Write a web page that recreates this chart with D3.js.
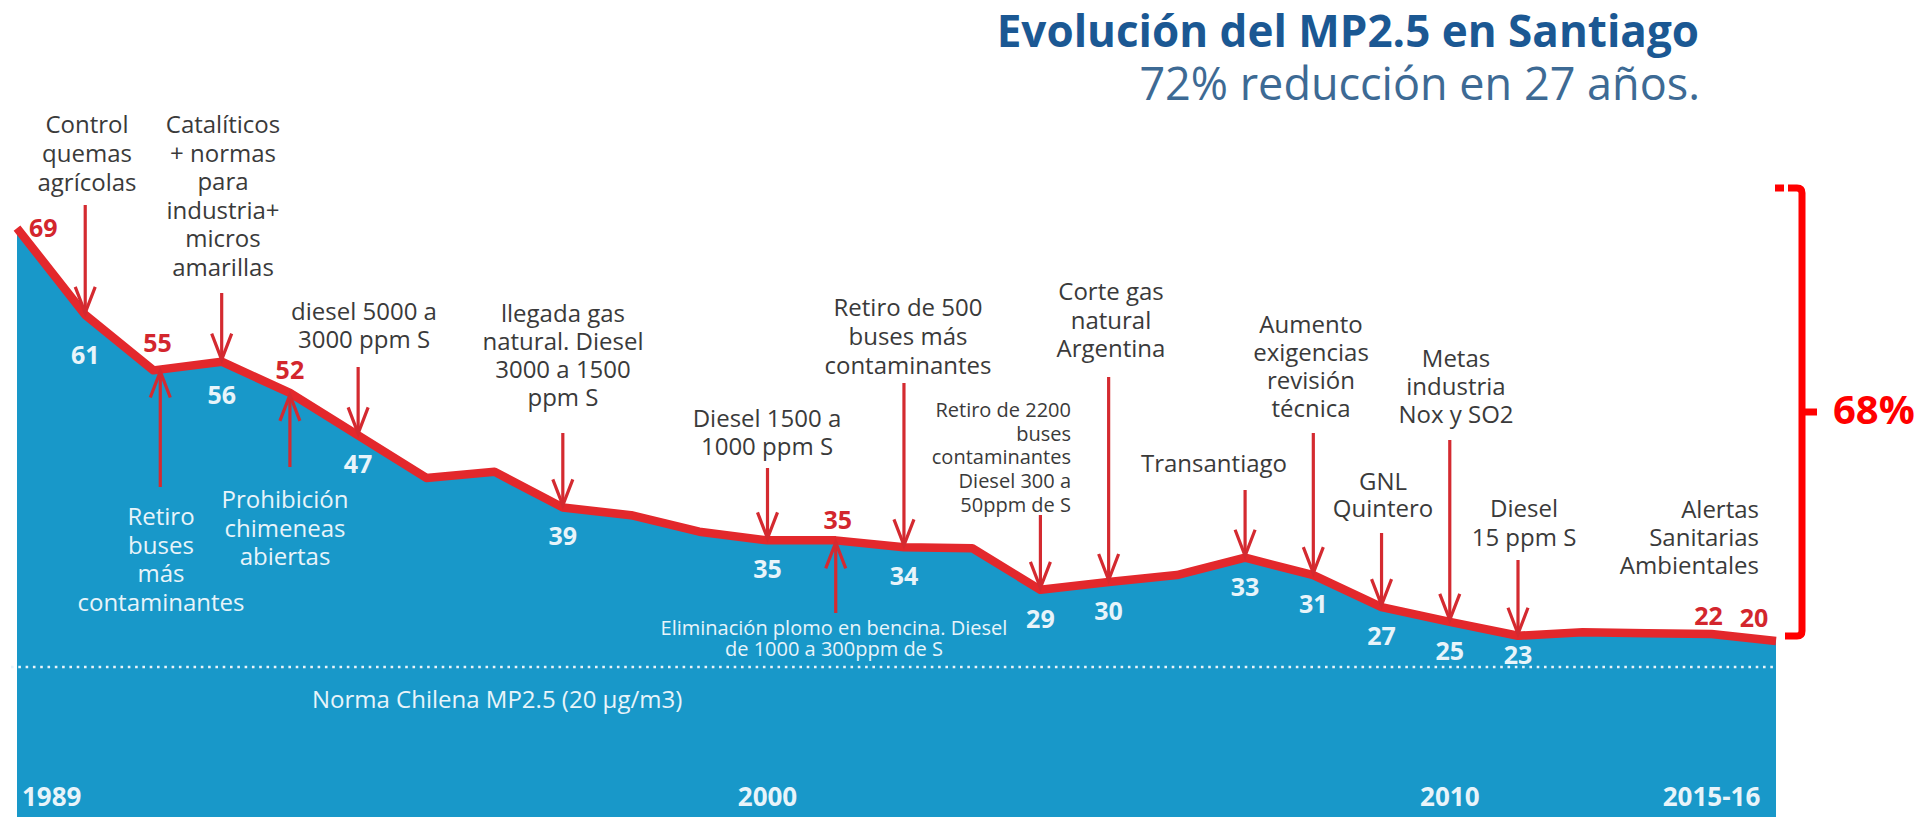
<!DOCTYPE html>
<html>
<head>
<meta charset="utf-8">
<script src="https://cdn.jsdelivr.net/npm/d3@7"></script>
<style>
    body { margin: 0; background: #fff; }
    svg { display: block; }
    text { font-family: 'Open Sans', sans-serif; }
</style>
</head>
<body>
<svg id="canvas" width="1926" height="817"></svg>
<script>
// Yearly MP2.5 readings, one per step (1989 ... 2015-16)
let mpValues = [70.6, 60.6, 54.2, 55.2, 51.6, 46.7, 41.8, 42.5, 38.4, 37.5, 35.6, 34.6, 34.6, 33.8,
    33.7, 28.9, 29.8, 30.6, 32.6, 30.6, 26.9, 25.2, 23.6, 24.0, 23.9, 23.8, 23.0];

// Printed numbers on the line
let redLabels = [
    { step: 0, text: '69' }, { step: 2, text: '55' }, { step: 4, text: '52' },
    { step: 12, text: '35' }, { step: 25, text: '22' }, { step: 26, text: '20' }
];
let whiteLabels = [
    { step: 1, text: '61' }, { step: 3, text: '56' }, { step: 5, text: '47' }, { step: 8, text: '39' },
    { step: 11, text: '35' }, { step: 13, text: '34' }, { step: 15, text: '29' }, { step: 16, text: '30' },
    { step: 18, text: '33' }, { step: 19, text: '31' }, { step: 20, text: '27' }, { step: 21, text: '25' },
    { step: 22, text: '23' }
];

// Year ticks
let yearTicks = [
    { step: 0, text: '1989' }, { step: 11, text: '2000' },
    { step: 21, text: '2010' }, { step: 25, text: '2015-16' }
];

// Norm value
let normValue = 20;
let normText = 'Norma Chilena MP2.5 (20 µg/m3)';

// Measures (arrows pointing down onto the line)
let notesAbove = [
    { step: 1, lines: ['Control', 'quemas', 'agrícolas'] },
    { step: 3, lines: ['Catalíticos', '+ normas', 'para', 'industria+', 'micros', 'amarillas'] },
    { step: 5, lines: ['diesel 5000 a', '3000 ppm S'] },
    { step: 8, lines: ['llegada gas', 'natural. Diesel', '3000 a 1500', 'ppm S'] },
    { step: 11, lines: ['Diesel 1500 a', '1000 ppm S'] },
    { step: 13, lines: ['Retiro de 500', 'buses más', 'contaminantes'] },
    { step: 15, lines: ['Retiro de 2200', 'buses', 'contaminantes', 'Diesel 300 a', '50ppm de S'] },
    { step: 16, lines: ['Corte gas', 'natural', 'Argentina'] },
    { step: 18, lines: ['Transantiago'] },
    { step: 19, lines: ['Aumento', 'exigencias', 'revisión', 'técnica'] },
    { step: 20, lines: ['GNL', 'Quintero'] },
    { step: 21, lines: ['Metas', 'industria', 'Nox y SO2'] },
    { step: 22, lines: ['Diesel', '15 ppm S'] },
    { step: null, lines: ['Alertas', 'Sanitarias', 'Ambientales'] }
];

// Measures (arrows pointing up from inside the area)
let notesBelow = [
    { step: 2.1, lines: ['Retiro', 'buses', 'más', 'contaminantes'] },
    { step: 4, lines: ['Prohibición', 'chimeneas', 'abiertas'] },
    { step: 12, lines: ['Eliminación plomo en bencina. Diesel', 'de 1000 a 300ppm de S'] }
];

// Text placement for the notes (same order as above)
let aboveLayout = [
    { tx: 87, ty: 133, lh: 29, tail: 205 },
    { tx: 223, ty: 133, lh: 28.5, tail: 293 },
    { tx: 364, ty: 320, lh: 28, tail: 367 },
    { tx: 563, ty: 322, lh: 28, tail: 433 },
    { tx: 767, ty: 427, lh: 28, tail: 468 },
    { tx: 908, ty: 316, lh: 29, tail: 383 },
    { tx: 1071, ty: 417, lh: 23.7, tail: 515, anchor: 'end', size: 20 },
    { tx: 1111, ty: 300, lh: 28.5, tail: 377 },
    { tx: 1214, ty: 472, lh: 28, tail: 490 },
    { tx: 1311, ty: 333, lh: 28, tail: 433 },
    { tx: 1383, ty: 490, lh: 27, tail: 533 },
    { tx: 1456, ty: 367, lh: 28, tail: 440 },
    { tx: 1524, ty: 517, lh: 29, tail: 560 },
    { tx: 1759, ty: 518, lh: 28, anchor: 'end' }
];
let belowLayout = [
    { tx: 161, ty: 525, lh: 28.5, tail: 487 },
    { tx: 285, ty: 508, lh: 28.5, tail: 467 },
    { tx: 834, ty: 635, lh: 21, tail: 613, size: 20 }
];
let redNudge = [[12, 9], [4, -18], [0, -14], [2, -11], [-3, -9], [-22, -14]];
let whiteNudge = [11, 4, 0, 0, 0, 0, 0, 0, 0, 0, 0, 0, -10];

// Colours
let blue = '#1898c9';
let red = '#e3282c';
let arrowRed = '#d42a30';
let ink = '#3a3a3a';
let paleText = '#e8f4fa';

let canvas = d3.select('#canvas');

// The drawing squeezes the last few years a little
let x = d3.scaleLinear().domain([0, 22, mpValues.length - 1]).range([17, 1518, 1776]);
let y = d3.scaleLinear().domain([20, 69]).range([667, 242]);

// y of the line at a (possibly fractional) step
let lineAt = (s) => {
    let i = Math.min(Math.floor(s), mpValues.length - 2);
    let f = s - i;
    return y(mpValues[i] + (mpValues[i + 1] - mpValues[i]) * f);
};

// Area under the curve
let area = d3.area()
    .x((d, i) => x(i))
    .y0(817)
    .y1((d) => y(d));

canvas.append('path')
    .datum(mpValues)
    .attr('d', area)
    .attr('fill', blue);

// Norm dotted line
canvas.append('line')
    .attr('x1', 11).attr('x2', x(mpValues.length - 1))
    .attr('y1', y(normValue)).attr('y2', y(normValue))
    .attr('stroke', paleText)
    .attr('stroke-width', 2.6)
    .attr('stroke-dasharray', '2.6 4.7');

canvas.append('text')
    .attr('x', 312).attr('y', y(normValue) + 41)
    .attr('font-size', 24)
    .attr('fill', paleText)
    .text(normText);

// Year labels
canvas.selectAll('.year')
    .data(yearTicks)
    .enter()
    .append('text')
    .attr('class', 'year')
    .attr('x', (d) => d.step === 0 ? x(d.step) + 5 : x(d.step))
    .attr('y', 806)
    .attr('text-anchor', (d) => d.step === 0 ? 'start' : 'middle')
    .attr('font-size', 26)
    .attr('font-weight', 700)
    .attr('fill', paleText)
    .text((d) => d.text);

// Multi-line note text
let drawNote = (note, lay, color) => {
    let t = canvas.append('text')
        .attr('text-anchor', lay.anchor || 'middle')
        .attr('font-size', lay.size || 24)
        .attr('fill', color);
    note.lines.forEach((line, k) => {
        t.append('tspan')
            .attr('x', lay.tx)
            .attr('y', lay.ty + k * lay.lh)
            .text(line);
    });
};

// Arrow with open chevron head at (ax, tipY)
let drawArrow = (ax, tailY, tipY) => {
    let dir = tipY > tailY ? -1 : 1;
    let g = canvas.append('g')
        .attr('stroke', arrowRed)
        .attr('stroke-width', 3.2)
        .attr('fill', 'none');
    g.append('line')
        .attr('x1', ax).attr('x2', ax)
        .attr('y1', tailY).attr('y2', tipY);
    g.append('path')
        .attr('d', `M${ax - 10},${tipY + dir * 26}L${ax},${tipY}L${ax + 10},${tipY + dir * 26}`);
};

notesBelow.forEach((n, k) => drawNote(n, belowLayout[k], paleText));
notesAbove.forEach((n, k) => drawNote(n, aboveLayout[k], ink));

// Red line
let line = d3.line()
    .x((d, i) => x(i))
    .y((d) => y(d));

canvas.append('path')
    .datum(mpValues)
    .attr('d', line)
    .attr('fill', 'none')
    .attr('stroke', red)
    .attr('stroke-width', 8.5)
    .attr('stroke-linejoin', 'round');

// Arrows
notesAbove.forEach((n, k) => {
    if (n.step === null) return;
    drawArrow(x(n.step), aboveLayout[k].tail, lineAt(n.step) - 2);
});
notesBelow.forEach((n, k) => {
    drawArrow(x(n.step), belowLayout[k].tail, lineAt(n.step) + 2);
});

// Value labels
canvas.selectAll('.redlab')
    .data(redLabels)
    .enter()
    .append('text')
    .attr('class', 'redlab')
    .attr('x', (d, i) => x(d.step) + redNudge[i][0])
    .attr('y', (d, i) => lineAt(d.step) + redNudge[i][1])
    .attr('text-anchor', (d) => d.step === 0 ? 'start' : 'middle')
    .attr('font-size', 25)
    .attr('font-weight', 700)
    .attr('fill', '#d3262d')
    .text((d) => d.text);

canvas.selectAll('.whitelab')
    .data(whiteLabels)
    .enter()
    .append('text')
    .attr('class', 'whitelab')
    .attr('x', (d) => x(d.step))
    .attr('y', (d, i) => lineAt(d.step) + 38 + whiteNudge[i])
    .attr('text-anchor', 'middle')
    .attr('font-size', 25)
    .attr('font-weight', 700)
    .attr('fill', paleText)
    .text((d) => d.text);

// Title
canvas.append('text')
    .attr('x', 1699).attr('y', 47)
    .attr('text-anchor', 'end')
    .attr('font-size', 44)
    .attr('font-weight', 700)
    .attr('fill', '#1b5893')
    .text('Evolución del MP2.5 en Santiago');

canvas.append('text')
    .attr('x', 1700).attr('y', 100)
    .attr('text-anchor', 'end')
    .attr('font-size', 45)
    .attr('fill', '#3d6a94')
    .text('72% reducción en 27 años.');

// 68% bracket
let bTop = 188, bBot = 636, bx = 1802;
let bMid = (bTop + bBot) / 2;
canvas.append('rect')
    .attr('x', 1775).attr('y', bTop - 3.5)
    .attr('width', 9).attr('height', 7)
    .attr('fill', '#ff0000');
canvas.append('path')
    .attr('d', `M1788,${bTop}H${bx - 5}Q${bx},${bTop} ${bx},${bTop + 5}V${bBot - 5}Q${bx},${bBot} ${bx - 5},${bBot}H1785`)
    .attr('fill', 'none')
    .attr('stroke', '#ff0000')
    .attr('stroke-width', 7);
canvas.append('line')
    .attr('x1', bx).attr('x2', 1817)
    .attr('y1', bMid).attr('y2', bMid)
    .attr('stroke', '#ff0000')
    .attr('stroke-width', 7);
canvas.append('text')
    .attr('x', 1833).attr('y', bMid + 12)
    .attr('font-size', 40)
    .attr('font-weight', 700)
    .attr('fill', '#ff0000')
    .text('68%');
</script>
</body>
</html>
